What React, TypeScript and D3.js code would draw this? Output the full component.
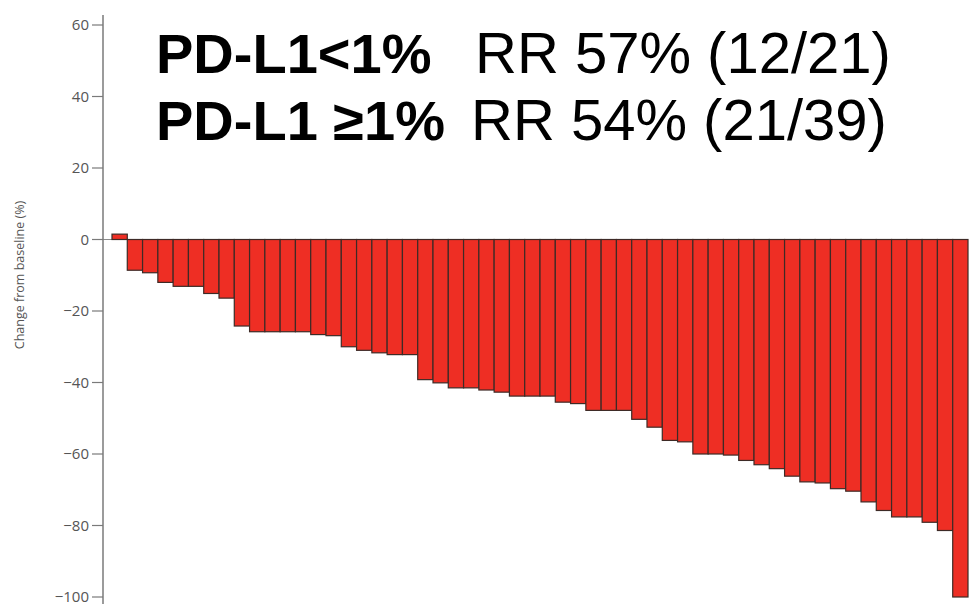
import React from "react";
import * as d3 from "d3";

const WIDTH = 971;
const HEIGHT = 604;

// Change from baseline (%) per patient, sorted (waterfall)
const changeValues: number[] = [
  1.5, -8.6, -9.3, -12.0, -13.1, -13.1, -15.1, -16.4, -24.2, -25.8,
  -25.8, -25.8, -25.8, -26.6, -26.9, -30.0, -31.0, -31.7, -32.2, -32.2,
  -39.2, -40.1, -41.5, -41.5, -42.1, -42.7, -43.8, -43.8, -43.8, -45.5,
  -45.9, -47.8, -47.8, -47.8, -50.3, -52.5, -56.2, -56.6, -60.0, -60.0,
  -60.3, -61.8, -63.0, -64.1, -66.2, -67.8, -68.1, -69.7, -70.4, -73.4,
  -75.8, -77.6, -77.6, -79.1, -81.4, -100,
];

const yTicks: number[] = [60, 40, 20, 0, -20, -40, -60, -80, -100];

const titleBold: string[] = ["PD-L1<1%", "PD-L1 \u22651%"];
const titleNormal: string[] = ["RR 57% (12/21)", "RR 54% (21/39)"];

const yAxisLabel = "Change from baseline (%)";

export default function App() {
  const y = d3.scaleLinear().domain([-100, 60]).range([597, 25]);
  const x = d3
    .scaleBand<number>()
    .domain(changeValues.map((_, i) => i))
    .range([112, 968])
    .paddingInner(0)
    .paddingOuter(0);

  const axisX = 103;
  const tickFmt = (v: number) => (v < 0 ? "\u2212" + Math.abs(v) : String(v));

  return (
    <svg
      width={WIDTH}
      height={HEIGHT}
      style={{ position: "absolute", left: 0, top: 0, background: "#fff" }}
    >
      {/* zero line */}
      <line x1={axisX} x2={968} y1={y(0)} y2={y(0)} stroke="#8a8a8a" strokeWidth={1} />

      {/* bars */}
      {changeValues.map((v, i) => {
        const y0 = y(0);
        const yv = y(v);
        return (
          <rect
            key={i}
            x={x(i)!}
            width={x.bandwidth()}
            y={Math.min(y0, yv)}
            height={Math.abs(yv - y0)}
            fill="#ee2e24"
            stroke="#3d2a26"
            strokeWidth={1.2}
          />
        );
      })}

      {/* y axis */}
      <line x1={axisX} x2={axisX} y1={15} y2={604} stroke="#7a7a7a" strokeWidth={1.5} />
      {yTicks.map((t) => (
        <g key={t}>
          <line x1={axisX - 11} x2={axisX} y1={y(t)} y2={y(t)} stroke="#7a7a7a" strokeWidth={1.2} />
          <text
            x={axisX - 14}
            y={y(t)}
            dy="0.35em"
            textAnchor="end"
            fontFamily="'Open Sans', 'DejaVu Sans', sans-serif"
            fontSize={15}
            fill="#555"
          >
            {tickFmt(t)}
          </text>
        </g>
      ))}
      <text
        transform={`translate(24, 275) rotate(-90)`}
        textAnchor="middle"
        fontFamily="'Open Sans', 'DejaVu Sans', sans-serif"
        fontSize={12.5}
        fill="#555"
      >
        {yAxisLabel}
      </text>

      {/* title annotations */}
      {titleBold.map((t, i) => (
        <text
          key={"b" + i}
          x={156}
          y={73 + i * 67}
          fontFamily="'Liberation Sans', Arial, sans-serif"
          fontWeight="bold"
          fontSize={56}
          fill="#000"
        >
          {t}
        </text>
      ))}
      {titleNormal.map((t, i) => (
        <text
          key={"n" + i}
          x={i === 0 ? 475 : 471}
          y={73 + i * 67}
          fontFamily="'Liberation Sans', Arial, sans-serif"
          fontSize={58}
          fill="#000"
        >
          {t}
        </text>
      ))}
    </svg>
  );
}
